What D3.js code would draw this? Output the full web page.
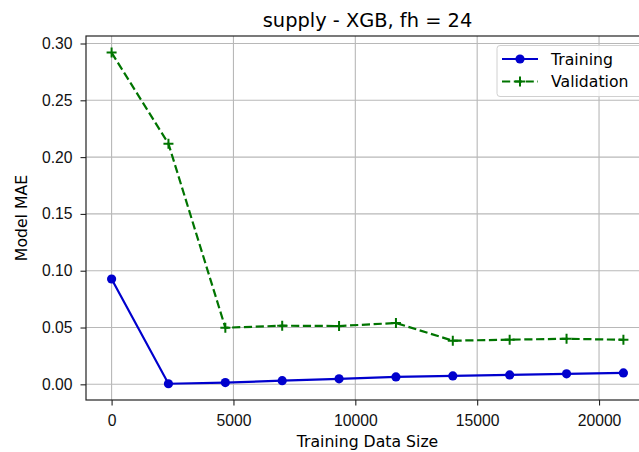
<!DOCTYPE html>
<html>
<head>
<meta charset="utf-8">
<script src="https://cdn.jsdelivr.net/npm/d3@7"></script>
<style>
    body { margin: 0; background: #fff; }
    svg { display: block; font-family: "DejaVu Sans", sans-serif; }
    .grid line { stroke: #b8b8b8; stroke-width: 1.1; }
    .axis path, .axis line { stroke: #222; stroke-width: 1.1; }
    .axis text { font-size: 15.7px; fill: #111; }
</style>
</head>
<body>
<script>
(function () {

    var width = 639,
        height = 452;

    // training data sizes and the two MAE curves
    var sizes = [0, 2333, 4667, 7000, 9333, 11667, 14000, 16333, 18667, 21000];
    var training = [0.0927, 0.0005, 0.0015, 0.0032, 0.0048, 0.0065, 0.0074, 0.0083, 0.0092, 0.0100];
    var validation = [0.2920, 0.2118, 0.0498, 0.0516, 0.0513, 0.0540, 0.0384, 0.0393, 0.0401, 0.0392];
    var xTicks = [0, 5000, 10000, 15000, 20000];
    var yTicks = [0.00, 0.05, 0.10, 0.15, 0.20, 0.25, 0.30];

    var margin = {top: 36, left: 86, bottom: 400, right: 649};

    var x = d3.scaleLinear()
        .domain([-1050, 22050])
        .range([margin.left, margin.right]);
    var y = d3.scaleLinear()
        .domain([-0.0138, 0.3066])
        .range([margin.bottom, margin.top]);

    var svg = d3.select("body").append("svg")
        .attr("width", width)
        .attr("height", height);

    // grid
    var grid = svg.append("g").attr("class", "grid");
    grid.selectAll(".gx")
        .data(xTicks).enter()
        .append("line")
        .attr("x1", d => x(d)).attr("x2", d => x(d))
        .attr("y1", margin.top).attr("y2", margin.bottom);
    grid.selectAll(".gy")
        .data(yTicks).enter()
        .append("line")
        .attr("x1", margin.left).attr("x2", margin.right)
        .attr("y1", d => y(d)).attr("y2", d => y(d));

    // axes
    svg.append("g")
        .attr("class", "axis")
        .attr("transform", "translate(0," + margin.bottom + ")")
        .call(d3.axisBottom(x).tickValues(xTicks).tickSize(5.5).tickPadding(9).tickSizeOuter(0).tickFormat(d3.format("d")));
    svg.append("g")
        .attr("class", "axis")
        .attr("transform", "translate(" + margin.left + ",0)")
        .call(d3.axisLeft(y).tickValues(yTicks).tickSize(5.5).tickPadding(8).tickSizeOuter(0).tickFormat(d3.format(".2f")));
    svg.selectAll(".axis .domain").remove();

    // spines
    svg.append("rect")
        .attr("x", margin.left)
        .attr("y", margin.top)
        .attr("width", margin.right - margin.left)
        .attr("height", margin.bottom - margin.top)
        .attr("fill", "none")
        .attr("stroke", "#222")
        .attr("stroke-width", 1.2);

    var line = d3.line()
        .x((d, i) => x(sizes[i]))
        .y(d => y(d));

    // validation
    svg.append("path")
        .datum(validation)
        .attr("d", line)
        .attr("fill", "none")
        .attr("stroke", "#007400")
        .attr("stroke-width", 2.2)
        .attr("stroke-dasharray", "8.2,3.6");
    svg.selectAll(".plus")
        .data(validation).enter()
        .append("path")
        .attr("d", (d, i) => {
            var cx = x(sizes[i]), cy = y(d);
            return "M" + (cx - 5) + "," + cy + "H" + (cx + 5) + "M" + cx + "," + (cy - 5) + "V" + (cy + 5);
        })
        .attr("stroke", "#007400")
        .attr("stroke-width", 2);

    // training
    svg.append("path")
        .datum(training)
        .attr("d", line)
        .attr("fill", "none")
        .attr("stroke", "#0000cd")
        .attr("stroke-width", 2.2);
    svg.selectAll(".dot")
        .data(training).enter()
        .append("circle")
        .attr("cx", (d, i) => x(sizes[i]))
        .attr("cy", d => y(d))
        .attr("r", 4.6)
        .attr("fill", "#0000cd");

    // labels
    svg.append("text")
        .attr("x", (margin.left + margin.right) / 2)
        .attr("y", 26.5)
        .attr("text-anchor", "middle")
        .style("font-size", "19.4px")
        .text("supply - XGB, fh = 24");
    svg.append("text")
        .attr("x", (margin.left + margin.right) / 2)
        .attr("y", 447)
        .attr("text-anchor", "middle")
        .style("font-size", "15.7px")
        .text("Training Data Size");
    svg.append("text")
        .attr("transform", "translate(26.5," + ((margin.top + margin.bottom) / 2) + ") rotate(-90)")
        .attr("text-anchor", "middle")
        .style("font-size", "15.7px")
        .text("Model MAE");

    // legend
    var lg = svg.append("g");
    lg.append("rect")
        .attr("x", 497).attr("y", 45.5)
        .attr("width", 160).attr("height", 51)
        .attr("rx", 3)
        .attr("fill", "#fff").attr("fill-opacity", 0.8)
        .attr("stroke", "#d0d0d0");
    lg.append("line")
        .attr("x1", 502).attr("x2", 538).attr("y1", 59).attr("y2", 59)
        .attr("stroke", "#0000cd").attr("stroke-width", 2.2);
    lg.append("circle")
        .attr("cx", 520).attr("cy", 59).attr("r", 4.6).attr("fill", "#0000cd");
    lg.append("line")
        .attr("x1", 502).attr("x2", 538).attr("y1", 81.5).attr("y2", 81.5)
        .attr("stroke", "#007400").attr("stroke-width", 2.2)
        .attr("stroke-dasharray", "8.2,3.6");
    lg.append("path")
        .attr("d", "M515,81.5H525M520,76.5V86.5")
        .attr("stroke", "#007400").attr("stroke-width", 2);
    lg.append("text").attr("x", 551).attr("y", 65).style("font-size", "15.7px").text("Training");
    lg.append("text").attr("x", 551).attr("y", 87).style("font-size", "15.7px").text("Validation");

})();
</script>
</body>
</html>
